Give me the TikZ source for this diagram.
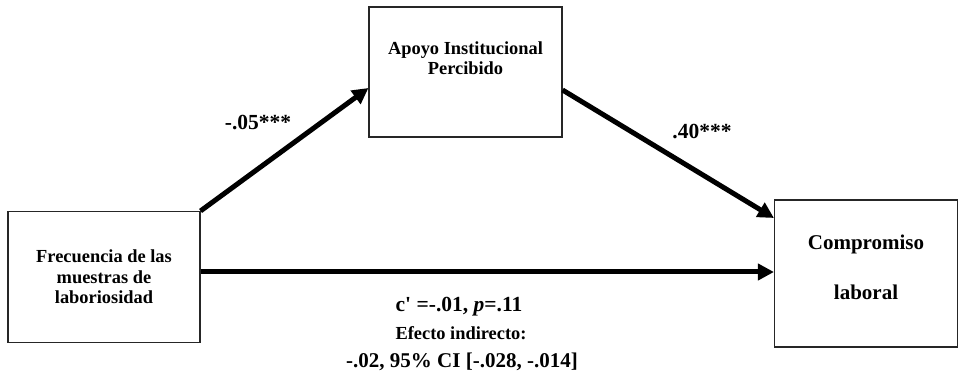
\documentclass[tikz,border=0pt]{standalone}
\usepackage{fontspec}
\setmainfont{Liberation Serif}
\usetikzlibrary{arrows.meta}
\begin{document}
\begin{tikzpicture}[x=1pt,y=1pt,
  boxnode/.style={draw=black!85,line width=1.1pt,rectangle,align=center,inner sep=0pt,font=\bfseries\fontsize{18.4}{20.5}\selectfont},
  pathline/.style={line width=5pt,-{Triangle[length=16pt,width=16pt]}},
  lbl/.style={font=\bfseries\fontsize{21.5}{24}\selectfont,inner sep=0pt}]
\useasboundingbox (0,0) rectangle (960,380);
\node[boxnode,minimum width=192pt,minimum height=131pt] (L) at (104,103) {Frecuencia de las\\muestras de\\laboriosidad};
\node[boxnode,minimum width=193pt,minimum height=130pt] (M) at (465.5,308) {};
\node[align=center,inner sep=0pt,font=\bfseries\fontsize{18.4}{20}\selectfont] (Mt) at (465.5,322) {Apoyo Institucional\\Percibido};
\node[boxnode,minimum width=183pt,minimum height=147pt] (R) at (866,106.5) {};
\node[align=center,inner sep=0pt,font=\bfseries\fontsize{21}{50}\selectfont] (Rt) at (866,113) {Compromiso\\laboral};
\coordinate (hs) at ([yshift=5pt]L.east);
\draw[pathline] (L.north east) -- ([yshift=-16pt]M.west);
\draw[pathline] ([yshift=-18pt]M.east) -- ([yshift=55.5pt]R.west);
\draw[pathline] (hs) -- (R.west |- hs);
\node[lbl] (a) at (258,257) {-.05***};
\node[lbl] (b) at (702,248) {.40***};
\node[lbl] (c) at (459,73) {c\textquotesingle\ =-.01, \textit{p}=.11};
\node[inner sep=0pt,font=\bfseries\fontsize{18.4}{20}\selectfont] (d) at (461,47) {Efecto indirecto:};
\node[inner sep=0pt,font=\bfseries\fontsize{21}{24}\selectfont] (e) at (462,18) {-.02, 95\% CI [-.028, -.014]};
\end{tikzpicture}
\end{document}
